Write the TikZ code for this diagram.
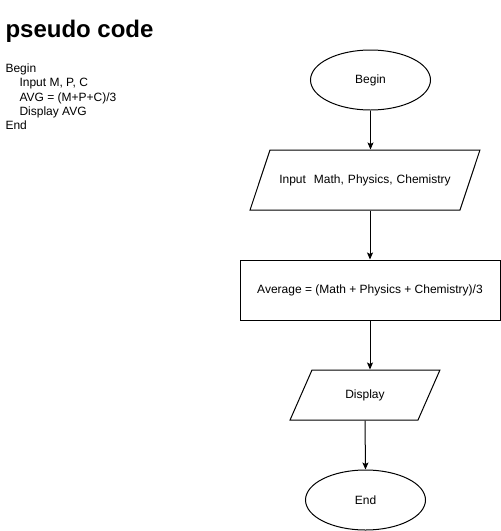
\documentclass[tikz,border=0pt]{standalone}
\usepackage{fontspec}
\setmainfont{Liberation Sans}
\usepackage{tikz}
\usetikzlibrary{arrows.meta}
\usetikzlibrary{shapes.geometric}
\tikzstyle{terminal} = [draw, ellipse, minimum width=120pt, minimum height=60pt, inner sep=0pt]
\tikzstyle{io} = [draw, trapezium, align=center, text height=8.6pt, text depth=2.5pt]
\tikzstyle{process} = [draw, minimum width=260pt, minimum height=60pt, inner sep=0pt]
\tikzstyle{arrow} = [-{Stealth[length=7pt, width=6pt, inset=1.5pt]}]

\begin{document}
\begin{tikzpicture}[x=1pt, y=-1pt, line width=1pt, font=\fontsize{12}{14.4}\selectfont]
	\useasboundingbox (0, 0) rectangle (501, 531);
	\node[anchor=base west, inner sep=0pt, font=\bfseries\fontsize{24}{28}\selectfont](title) at (5, 37){pseudo code};
	\node[anchor=north west, align=left, inner sep=0pt](pseudo) at (5, 63){
		Begin\\
		\hspace*{14pt}Input M, P, C\\
		\hspace*{14pt}AVG = (M+P+C)/3\\
		\hspace*{14pt}Display AVG\\
		End
	};
	\node[terminal](begin) at (370.5, 80){Begin};
	\node[io, text width=186pt, inner xsep=2pt, inner ysep=24.45pt, trapezium left angle=71.6, trapezium right angle=108.4](input) at (365, 180){Input\ \ Math, Physics, Chemistry};
	\node[process](avg) at (370, 290){Average = (Math + Physics + Chemistry)/3};
	\node[io, text width=60pt, inner xsep=23pt, inner ysep=19.45pt, trapezium left angle=66.3, trapezium right angle=113.7](display) at (365, 395){Display};
	\node[terminal](end) at (365.5, 500){End};
	\draw[arrow](begin.south) -- (begin.south |- input.north);
	\draw[arrow](avg.north |- input.south) -- (avg.north);
	\draw[arrow](avg.south) -- (avg.south |- display.north);
	\draw[arrow](display.south) -- (end.north);
\end{tikzpicture}
\end{document}
